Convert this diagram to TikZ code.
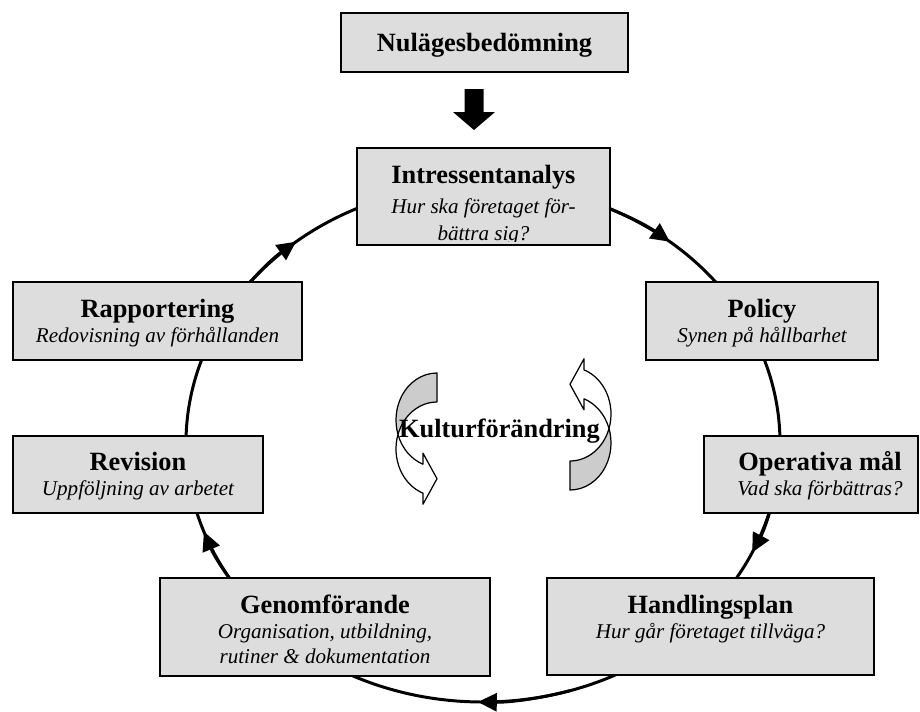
\documentclass[tikz,border=0pt]{standalone}
\usepackage{fontspec}
\setmainfont{Liberation Serif}
\usetikzlibrary{arrows.meta,fit,calc}
\definecolor{boxgray}{RGB}{221,221,221}
\definecolor{backgray}{RGB}{204,204,204}
\begin{document}
\begin{tikzpicture}[x=0.02cm, y=-0.02cm,
  box/.style={draw=black, line width=0.75pt, fill=boxgray, inner sep=0pt},
  ttl/.style={anchor=base, inner sep=0pt, font=\fontsize{15}{18}\selectfont\bfseries},
  sub/.style={anchor=base, inner sep=0pt, font=\fontsize{12}{14}\selectfont\itshape},
  cycleline/.style={line width=1.7pt},
  flow/.style={line width=1.7pt, -{Triangle[length=0.38cm, width=0.36cm]}},
  bandline/.style={draw=black, line width=0.7pt, line join=round},
  % curved block arrow: back half shaded, front half with the head
  pics/swirl/.style={code={
    \path[bandline, fill=backgray] (437,373)
      arc[start angle=270, end angle=162.03, x radius=41, y radius=47]
      arc[start angle=197.97, end angle=270, x radius=41, y radius=47] -- cycle;
    \path[bandline, fill=white] (398,434.5)
      arc[start angle=197.97, end angle=109.97, x radius=41, y radius=47]
      -- (423,504.2) -- (437,478.7) -- (423,453.2) -- (423,464.2)
      arc[start angle=109.97, end angle=162.03, x radius=41, y radius=47] -- cycle;
  }}]

\useasboundingbox (0,0) rectangle (920,711);

% the improvement cycle
\coordinate (ctr) at (483,443);
\draw[cycleline] (ctr) ellipse [x radius=297, y radius=259];
\foreach \e in {309,25,91,160,231}
  \draw[flow] ($(ctr)+(\e-18:297 and 259)$)
    arc[start angle=\e-18, end angle=\e, x radius=297, y radius=259];

% boxes
\node[box, fit={(341,13) (628,72)}]   (nul)  {};
\node[box, fit={(357,148) (610,245)}] (intr) {};
\node[box, fit={(13,282) (302,360)}]  (rap)  {};
\node[box, fit={(646,282) (878,360)}] (pol)  {};
\node[box, fit={(13,436) (263,513)}]  (rev)  {};
\node[box, fit={(704,436) (918,513)}] (ope)  {};
\node[box, fit={(160,578) (490,676)}] (gen)  {};
\node[box, fit={(547,578) (874,675)}] (han)  {};

% block arrow from the assessment to the stakeholder analysis
\fill (464.5,89) -- (483.5,89) -- (483.5,112) -- (495,112) -- (474,130)
  -- (453,112) -- (464.5,112) -- cycle;

% texts
\node[ttl] (nul-t) at (484.5,51) {Nulägesbedömning};

\node[ttl] (intr-t) at (483.5,183) {Intressentanalys};
\node[sub] (intr-s1) at (483.5,213) {Hur ska företaget för-};
\begin{scope}
  % the second line runs past the bottom of its box and is cut off there
  \clip (357,148) rectangle (610,241);
  \node[sub] (intr-s2) at (483.5,240) {bättra sig?};
\end{scope}

\node[ttl] (rap-t) at (157.5,317) {Rapportering};
\node[sub] (rap-s) at (157.5,342) {Redovisning av förhållanden};

\node[ttl] (pol-t) at (762,317) {Policy};
\node[sub] (pol-s) at (762,342) {Synen på hållbarhet};

\node[ttl] (rev-t) at (138,470) {Revision};
\node[sub] (rev-s) at (138,495) {Uppföljning av arbetet};

\node[ttl] (ope-t) at (820,470) {Operativa mål};
\node[sub] (ope-s) at (820,495) {Vad ska förbättras?};

\node[ttl] (gen-t) at (325,613) {Genomförande};
\node[sub] (gen-s1) at (325,638) {Organisation, utbildning,};
\node[sub] (gen-s2) at (325,663) {rutiner \& dokumentation};

\node[ttl] (han-t) at (710.5,613) {Handlingsplan};
\node[sub] (han-s) at (710.5,638) {Hur går företaget tillväga?};

% cultural change in the middle: two curved arrows turning into each other
\pic[transform shape] (swirlL) at (0,0) {swirl};
\begin{scope}[rotate around={180:(503.5,431.5)}]
  \pic[transform shape] (swirlR) at (0,0) {swirl};
\end{scope}
\node[ttl] (kultur) at (499.5,437) {Kulturförändring};

\end{tikzpicture}
\end{document}
